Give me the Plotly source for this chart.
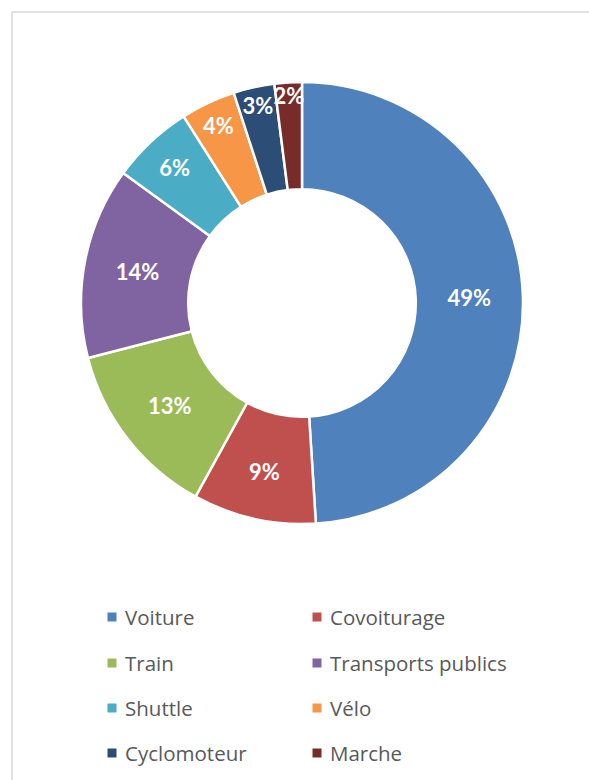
import plotly.graph_objects as go

categories = ["Voiture", "Covoiturage", "Train", "Transports publics",
              "Shuttle", "Vélo", "Cyclomoteur", "Marche"]
values = [49, 9, 13, 14, 6, 4, 3, 2]
colors = ["#4F81BD", "#C0504D", "#9BBB59", "#8064A2",
          "#4BACC6", "#F79646", "#2C4D75", "#772C2A"]

W, H = 589, 780
ML, MR, MT, MB = 40, 25, 82, 256
PW = W - ML - MR
PH = H - MT - MB


def px_x(px):
    return (px - ML) / PW


def px_y(py):
    return (H - MB - py) / PH


fig = go.Figure()
fig.add_trace(go.Pie(
    labels=categories,
    values=values,
    sort=False,
    direction="clockwise",
    rotation=0,
    hole=0.515,
    marker=dict(colors=colors, line=dict(color="white", width=2.5)),
    texttemplate="%{percent:.0%}",
    textposition="inside",
    insidetextorientation="horizontal",
    textfont=dict(family="Lato", size=22, color="white", weight="bold"),
    showlegend=False,
    hoverinfo="label+percent",
))

# Legend (two columns) built from the category/colour lists
col_x = [112, 317]
row_y = [617, 663, 708, 753]
shapes = []
annotations = []
for i, (lab, col) in enumerate(zip(categories, colors)):
    cx = col_x[i % 2]
    cy = row_y[i // 2]
    shapes.append(dict(type="rect", xref="paper", yref="paper",
                       x0=px_x(cx - 4.5), x1=px_x(cx + 4.5),
                       y0=px_y(cy + 4.5), y1=px_y(cy - 4.5),
                       fillcolor=col, line=dict(width=0)))
    annotations.append(dict(xref="paper", yref="paper",
                            x=px_x(cx + 11), y=px_y(cy),
                            xanchor="left", yanchor="middle",
                            text=lab, showarrow=False,
                            font=dict(family="Open Sans", size=20.5, color="#595959")))

# chart frame
shapes.append(dict(type="rect", xref="paper", yref="paper",
                   x0=px_x(12), x1=px_x(640), y0=px_y(12), y1=px_y(820),
                   line=dict(color="#D9D9D9", width=1.5), fillcolor="rgba(0,0,0,0)",
                   layer="below"))

fig.update_layout(
    width=W, height=H,
    margin=dict(l=ML, r=MR, t=MT, b=MB),
    paper_bgcolor="white",
    plot_bgcolor="white",
    uniformtext=dict(minsize=22, mode="show"),
    shapes=shapes,
    annotations=annotations,
)

fig.write_html("out.html",
               config={"displayModeBar": False},
               post_script="document.body.style.margin='0px';"
                           "document.body.style.overflow='hidden';")
